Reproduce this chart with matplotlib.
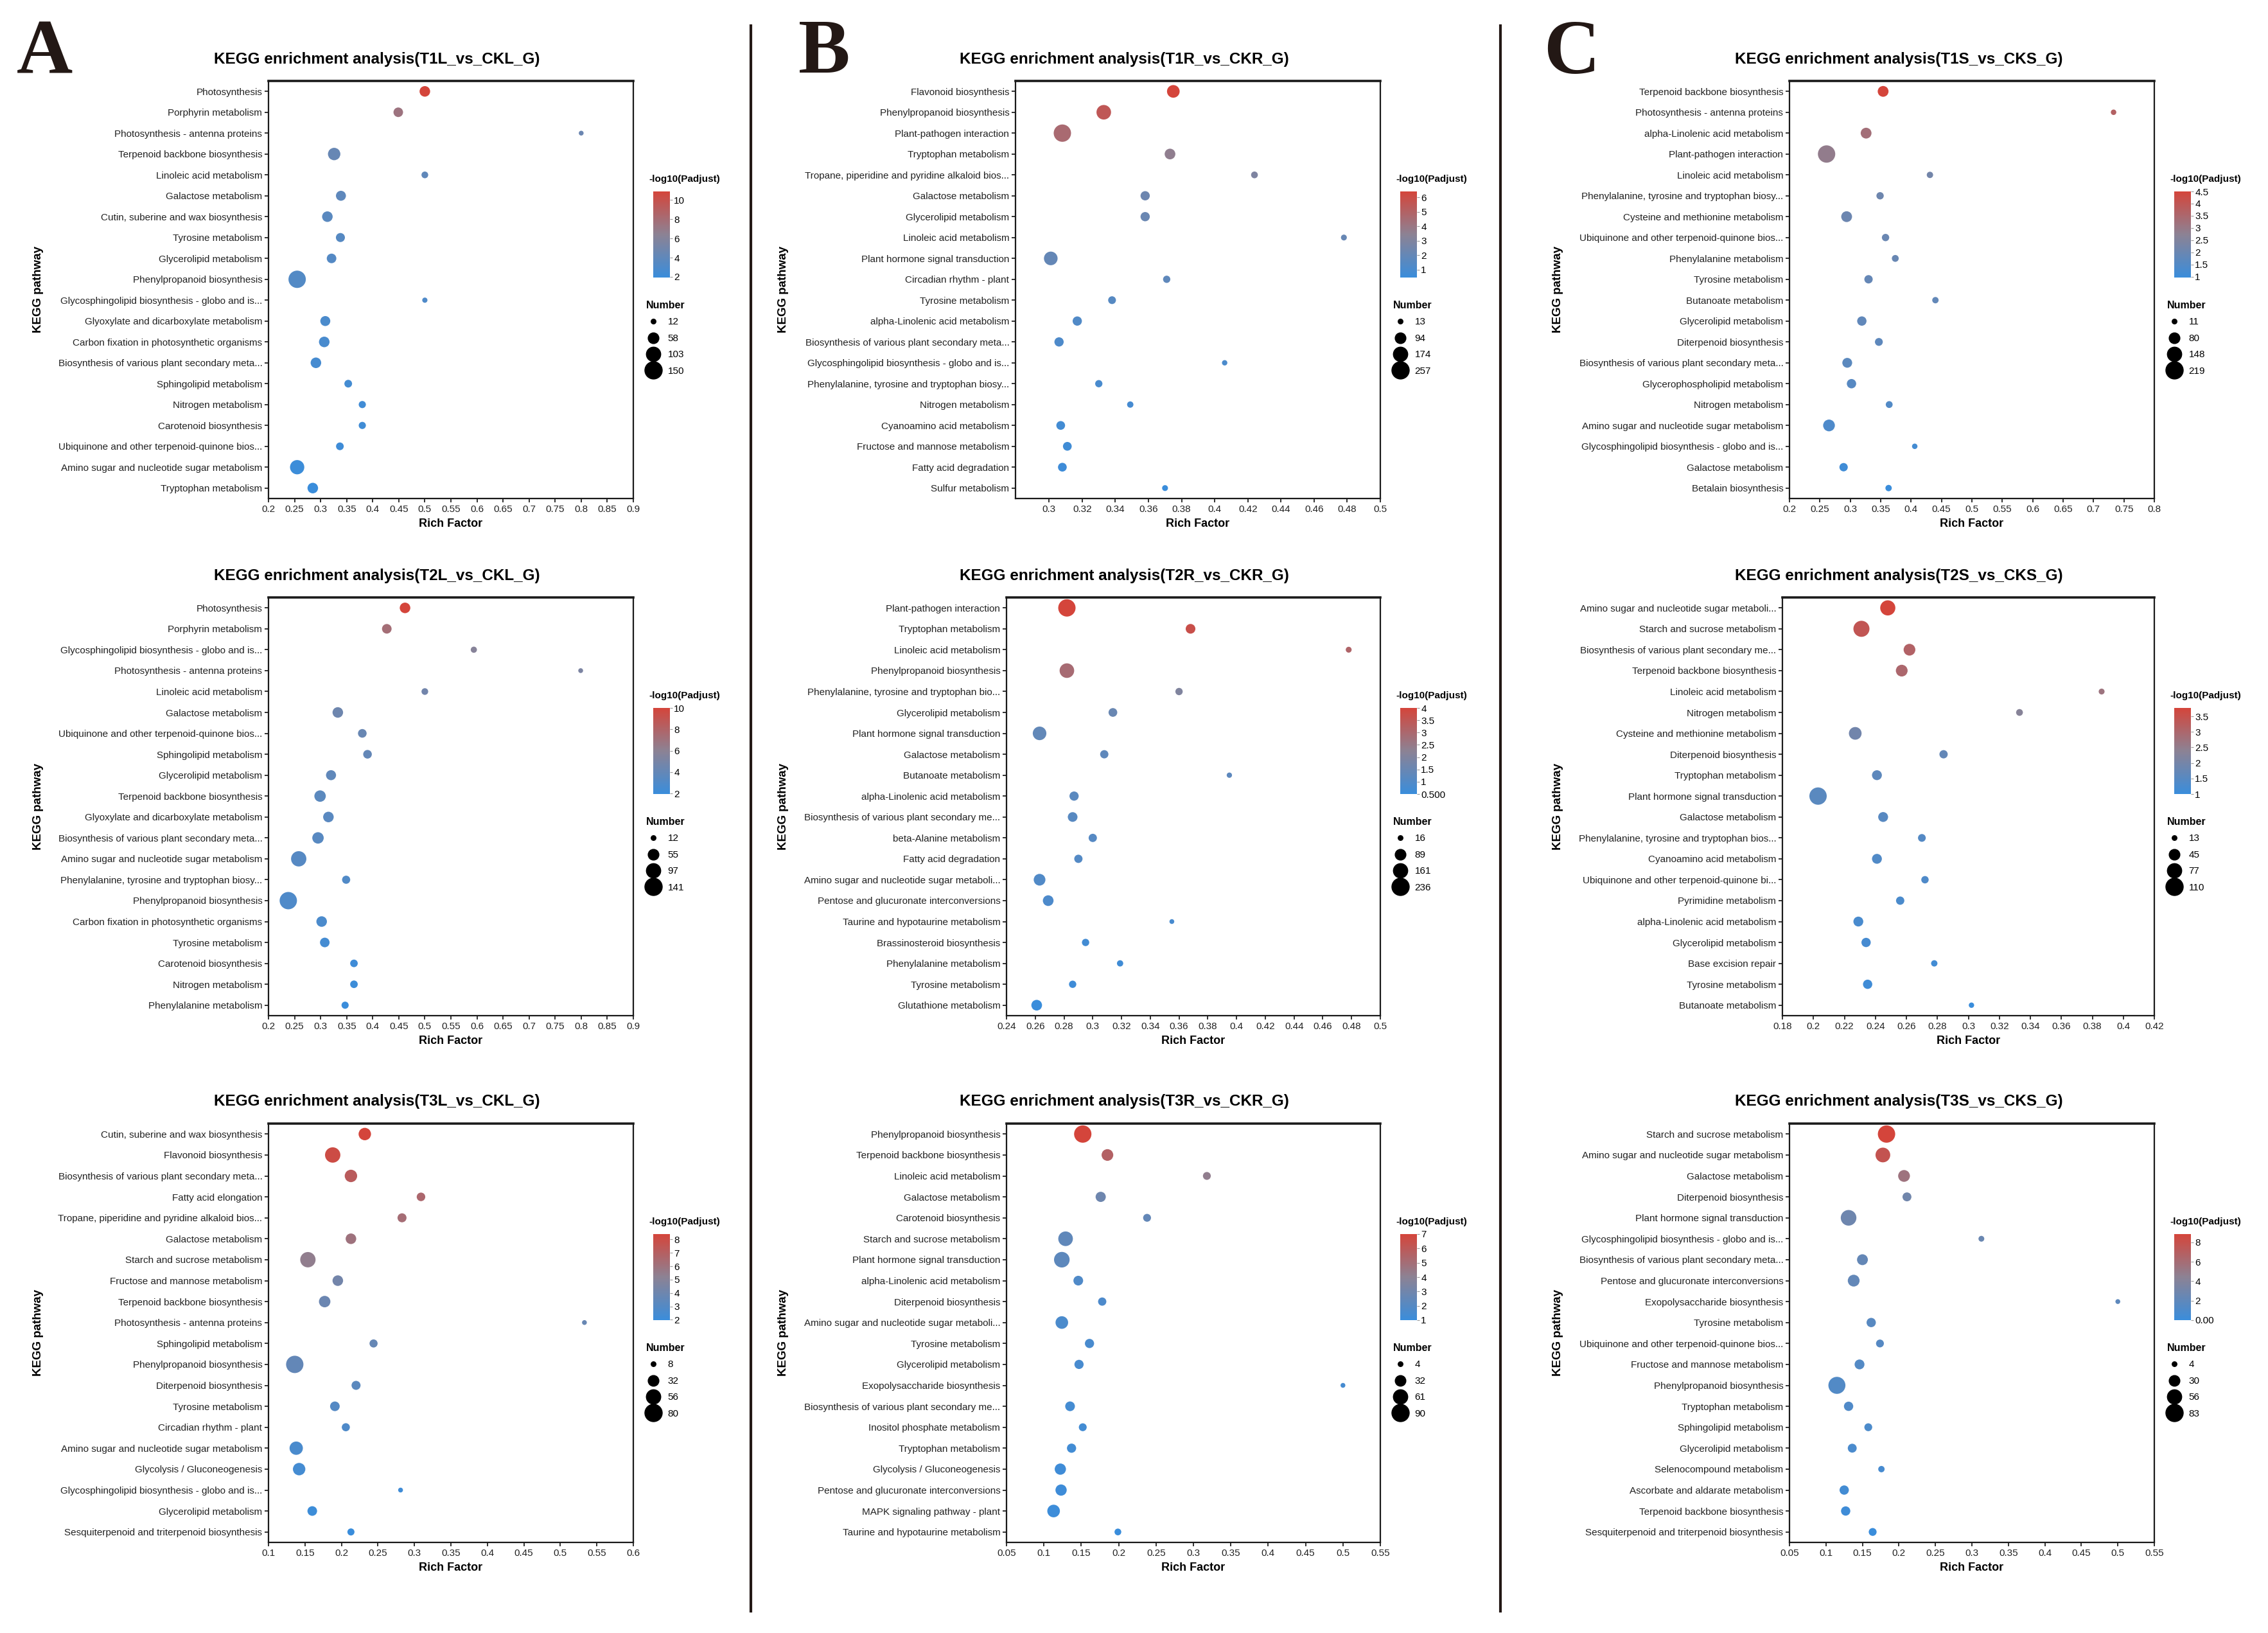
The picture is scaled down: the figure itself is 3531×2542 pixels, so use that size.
import numpy as np
import matplotlib
matplotlib.use("Agg")
import matplotlib.pyplot as plt
from matplotlib.colors import LinearSegmentedColormap
from matplotlib.lines import Line2D

# ---------------- data ----------------
# A: leaves
t1l_terms = ["Photosynthesis", "Porphyrin metabolism", "Photosynthesis - antenna proteins",
             "Terpenoid backbone biosynthesis", "Linoleic acid metabolism", "Galactose metabolism",
             "Cutin, suberine and wax biosynthesis", "Tyrosine metabolism", "Glycerolipid metabolism",
             "Phenylpropanoid biosynthesis", "Glycosphingolipid biosynthesis - globo and is...",
             "Glyoxylate and dicarboxylate metabolism", "Carbon fixation in photosynthetic organisms",
             "Biosynthesis of various plant secondary meta...", "Sphingolipid metabolism",
             "Nitrogen metabolism", "Carotenoid biosynthesis",
             "Ubiquinone and other terpenoid-quinone bios...",
             "Amino sugar and nucleotide sugar metabolism", "Tryptophan metabolism"]
t1l_rich = [0.50, 0.449, 0.80, 0.326, 0.50, 0.339, 0.313, 0.338, 0.321, 0.255,
            0.50, 0.309, 0.307, 0.291, 0.353, 0.380, 0.380, 0.337, 0.255, 0.285]
t1l_num = [56, 46, 12, 77, 23, 50, 56, 41, 46, 150, 14, 50, 56, 56, 30, 26, 26, 30, 102, 56]
t1l_padj = [10.9, 7.5, 4.6, 4.4, 4.0, 3.9, 3.7, 3.5, 3.4, 3.3,
            3.1, 2.9, 2.8, 2.6, 2.5, 2.35, 2.3, 2.2, 2.05, 1.93]
t1l_sizes = [12, 58, 103, 150]

t2l_terms = ["Photosynthesis", "Porphyrin metabolism", "Glycosphingolipid biosynthesis - globo and is...",
             "Photosynthesis - antenna proteins", "Linoleic acid metabolism", "Galactose metabolism",
             "Ubiquinone and other terpenoid-quinone bios...", "Sphingolipid metabolism",
             "Glycerolipid metabolism", "Terpenoid backbone biosynthesis",
             "Glyoxylate and dicarboxylate metabolism", "Biosynthesis of various plant secondary meta...",
             "Amino sugar and nucleotide sugar metabolism",
             "Phenylalanine, tyrosine and tryptophan biosy...", "Phenylpropanoid biosynthesis",
             "Carbon fixation in photosynthetic organisms", "Tyrosine metabolism",
             "Carotenoid biosynthesis", "Nitrogen metabolism", "Phenylalanine metabolism"]
t2l_rich = [0.462, 0.427, 0.594, 0.799, 0.500, 0.333, 0.380, 0.390, 0.320, 0.299,
            0.315, 0.295, 0.258, 0.349, 0.238, 0.302, 0.308, 0.364, 0.364, 0.347]
t2l_num = [53, 44, 19, 12, 22, 53, 36, 36, 48, 62, 53, 62, 110, 32, 141, 53, 44, 28, 28, 25]
t2l_padj = [10.0, 7.3, 5.7, 5.2, 4.7, 4.5, 4.2, 4.0, 3.8, 3.6,
            3.5, 3.4, 3.3, 3.1, 3.0, 2.8, 2.5, 2.2, 2.1, 1.94]
t2l_sizes = [12, 55, 97, 141]

t3l_terms = ["Cutin, suberine and wax biosynthesis", "Flavonoid biosynthesis",
             "Biosynthesis of various plant secondary meta...", "Fatty acid elongation",
             "Tropane, piperidine and pyridine alkaloid bios...", "Galactose metabolism",
             "Starch and sucrose metabolism", "Fructose and mannose metabolism",
             "Terpenoid backbone biosynthesis", "Photosynthesis - antenna proteins",
             "Sphingolipid metabolism", "Phenylpropanoid biosynthesis", "Diterpenoid biosynthesis",
             "Tyrosine metabolism", "Circadian rhythm - plant",
             "Amino sugar and nucleotide sugar metabolism", "Glycolysis / Gluconeogenesis",
             "Glycosphingolipid biosynthesis - globo and is...", "Glycerolipid metabolism",
             "Sesquiterpenoid and triterpenoid biosynthesis"]
t3l_rich = [0.232, 0.188, 0.213, 0.309, 0.283, 0.213, 0.154, 0.195, 0.177, 0.533,
            0.244, 0.136, 0.220, 0.191, 0.206, 0.138, 0.142, 0.281, 0.160, 0.213]
t3l_num = [42, 63, 42, 21, 23, 31, 63, 31, 36, 8, 19, 80, 23, 26, 19, 48, 42, 8, 26, 15]
t3l_padj = [8.4, 8.0, 7.2, 6.6, 6.3, 6.0, 5.4, 4.2, 3.9, 3.8,
            3.7, 3.6, 3.3, 3.0, 2.8, 2.6, 2.4, 2.2, 2.1, 1.97]
t3l_sizes = [8, 32, 56, 80]

# B: roots
t1r_terms = ["Flavonoid biosynthesis", "Phenylpropanoid biosynthesis", "Plant-pathogen interaction",
             "Tryptophan metabolism", "Tropane, piperidine and pyridine alkaloid bios...",
             "Galactose metabolism", "Glycerolipid metabolism", "Linoleic acid metabolism",
             "Plant hormone signal transduction", "Circadian rhythm - plant", "Tyrosine metabolism",
             "alpha-Linolenic acid metabolism", "Biosynthesis of various plant secondary meta...",
             "Glycosphingolipid biosynthesis - globo and is...",
             "Phenylalanine, tyrosine and tryptophan biosy...", "Nitrogen metabolism",
             "Cyanoamino acid metabolism", "Fructose and mannose metabolism",
             "Fatty acid degradation", "Sulfur metabolism"]
t1r_rich = [0.375, 0.333, 0.308, 0.373, 0.424, 0.358, 0.358, 0.478, 0.301, 0.371,
            0.338, 0.317, 0.306, 0.406, 0.330, 0.349, 0.307, 0.311, 0.308, 0.370]
t1r_num = [133, 179, 257, 93, 33, 68, 68, 23, 156, 39, 46, 68, 68, 18, 39, 28, 60, 60, 60, 23]
t1r_padj = [6.4, 5.5, 4.6, 3.6, 2.9, 2.3, 2.2, 2.1, 2.0, 1.8,
            1.5, 1.3, 1.2, 1.1, 1.0, 0.9, 0.8, 0.7, 0.6, 0.46]
t1r_sizes = [13, 94, 174, 257]

t2r_terms = ["Plant-pathogen interaction", "Tryptophan metabolism", "Linoleic acid metabolism",
             "Phenylpropanoid biosynthesis", "Phenylalanine, tyrosine and tryptophan bio...",
             "Glycerolipid metabolism", "Plant hormone signal transduction", "Galactose metabolism",
             "Butanoate metabolism", "alpha-Linolenic acid metabolism",
             "Biosynthesis of various plant secondary me...", "beta-Alanine metabolism",
             "Fatty acid degradation", "Amino sugar and nucleotide sugar metaboli...",
             "Pentose and glucuronate interconversions", "Taurine and hypotaurine metabolism",
             "Brassinosteroid biosynthesis", "Phenylalanine metabolism", "Tyrosine metabolism",
             "Glutathione metabolism"]
t2r_rich = [0.282, 0.368, 0.478, 0.282, 0.360, 0.314, 0.263, 0.308, 0.395, 0.287,
            0.286, 0.300, 0.290, 0.263, 0.269, 0.355, 0.295, 0.319, 0.286, 0.261]
t2r_num = [236, 72, 25, 166, 40, 58, 144, 52, 20, 65, 72, 52, 52, 106, 88, 16, 40, 29, 40, 88]
t2r_padj = [4.0, 3.7, 3.1, 2.9, 2.0, 1.5, 1.35, 1.3, 1.25, 1.2,
            1.15, 1.1, 1.05, 1.0, 0.9, 0.8, 0.7, 0.65, 0.6, 0.5]
t2r_sizes = [16, 89, 161, 236]

t3r_terms = ["Phenylpropanoid biosynthesis", "Terpenoid backbone biosynthesis",
             "Linoleic acid metabolism", "Galactose metabolism", "Carotenoid biosynthesis",
             "Starch and sucrose metabolism", "Plant hormone signal transduction",
             "alpha-Linolenic acid metabolism", "Diterpenoid biosynthesis",
             "Amino sugar and nucleotide sugar metaboli...", "Tyrosine metabolism",
             "Glycerolipid metabolism", "Exopolysaccharide biosynthesis",
             "Biosynthesis of various plant secondary me...", "Inositol phosphate metabolism",
             "Tryptophan metabolism", "Glycolysis / Gluconeogenesis",
             "Pentose and glucuronate interconversions", "MAPK signaling pathway - plant",
             "Taurine and hypotaurine metabolism"]
t3r_rich = [0.152, 0.185, 0.318, 0.176, 0.238, 0.129, 0.124, 0.146, 0.178, 0.124,
            0.161, 0.147, 0.500, 0.135, 0.152, 0.137, 0.122, 0.123, 0.113, 0.199]
t3r_num = [90, 39, 16, 29, 16, 63, 72, 26, 18, 46, 23, 23, 4, 26, 16, 23, 36, 36, 46, 11]
t3r_padj = [7.0, 5.6, 4.2, 2.9, 2.5, 2.4, 2.3, 1.8, 1.7, 1.65,
            1.55, 1.5, 1.45, 1.4, 1.35, 1.3, 1.2, 1.15, 1.1, 1.0]
t3r_sizes = [4, 32, 61, 90]

# C: stems
t1s_terms = ["Terpenoid backbone biosynthesis", "Photosynthesis - antenna proteins",
             "alpha-Linolenic acid metabolism", "Plant-pathogen interaction",
             "Linoleic acid metabolism", "Phenylalanine, tyrosine and tryptophan biosy...",
             "Cysteine and methionine metabolism", "Ubiquinone and other terpenoid-quinone bios...",
             "Phenylalanine metabolism", "Tyrosine metabolism", "Butanoate metabolism",
             "Glycerolipid metabolism", "Diterpenoid biosynthesis",
             "Biosynthesis of various plant secondary meta...", "Glycerophospholipid metabolism",
             "Nitrogen metabolism", "Amino sugar and nucleotide sugar metabolism",
             "Glycosphingolipid biosynthesis - globo and is...", "Galactose metabolism",
             "Betalain biosynthesis"]
t1s_rich = [0.354, 0.733, 0.326, 0.261, 0.431, 0.349, 0.294, 0.358, 0.374, 0.330,
            0.440, 0.319, 0.347, 0.295, 0.302, 0.364, 0.265, 0.406, 0.289, 0.363]
t1s_num = [81, 16, 81, 219, 24, 34, 81, 34, 29, 46, 24, 59, 40, 66, 59, 29, 97, 16, 46, 24]
t1s_padj = [4.5, 3.7, 3.3, 2.9, 2.2, 2.1, 2.05, 2.0, 1.95, 1.9,
            1.85, 1.8, 1.75, 1.7, 1.6, 1.5, 1.4, 1.2, 1.1, 0.97]
t1s_sizes = [11, 80, 148, 219]

t2s_terms = ["Amino sugar and nucleotide sugar metaboli...", "Starch and sucrose metabolism",
             "Biosynthesis of various plant secondary me...", "Terpenoid backbone biosynthesis",
             "Linoleic acid metabolism", "Nitrogen metabolism", "Cysteine and methionine metabolism",
             "Diterpenoid biosynthesis", "Tryptophan metabolism", "Plant hormone signal transduction",
             "Galactose metabolism", "Phenylalanine, tyrosine and tryptophan bios...",
             "Cyanoamino acid metabolism", "Ubiquinone and other terpenoid-quinone bi...",
             "Pyrimidine metabolism", "alpha-Linolenic acid metabolism", "Glycerolipid metabolism",
             "Base excision repair", "Tyrosine metabolism", "Butanoate metabolism"]
t2s_rich = [0.248, 0.231, 0.262, 0.257, 0.386, 0.333, 0.227, 0.284, 0.241, 0.203,
            0.245, 0.270, 0.241, 0.272, 0.256, 0.229, 0.234, 0.278, 0.235, 0.302]
t2s_num = [85, 95, 53, 53, 17, 21, 61, 29, 39, 110, 39, 26, 39, 24, 29, 39, 35, 19, 35, 15]
t2s_padj = [3.77, 3.4, 3.1, 3.0, 2.7, 2.3, 1.95, 1.7, 1.6, 1.55,
            1.5, 1.45, 1.4, 1.35, 1.3, 1.25, 1.2, 1.15, 1.1, 1.0]
t2s_sizes = [13, 45, 77, 110]

t3s_terms = ["Starch and sucrose metabolism", "Amino sugar and nucleotide sugar metabolism",
             "Galactose metabolism", "Diterpenoid biosynthesis", "Plant hormone signal transduction",
             "Glycosphingolipid biosynthesis - globo and is...",
             "Biosynthesis of various plant secondary meta...",
             "Pentose and glucuronate interconversions", "Exopolysaccharide biosynthesis",
             "Tyrosine metabolism", "Ubiquinone and other terpenoid-quinone bios...",
             "Fructose and mannose metabolism", "Phenylpropanoid biosynthesis",
             "Tryptophan metabolism", "Sphingolipid metabolism", "Glycerolipid metabolism",
             "Selenocompound metabolism", "Ascorbate and aldarate metabolism",
             "Terpenoid backbone biosynthesis", "Sesquiterpenoid and triterpenoid biosynthesis"]
t3s_rich = [0.183, 0.178, 0.207, 0.211, 0.131, 0.313, 0.150, 0.138, 0.500, 0.162,
            0.174, 0.146, 0.115, 0.131, 0.158, 0.136, 0.176, 0.125, 0.127, 0.164]
t3s_num = [83, 59, 37, 20, 67, 7, 31, 37, 4, 22, 15, 25, 80, 22, 15, 20, 9, 22, 22, 15]
t3s_padj = [8.84, 7.8, 5.5, 3.0, 2.8, 2.6, 2.3, 2.2, 1.9, 1.6,
            1.5, 1.4, 1.3, 1.2, 1.0, 0.9, 0.7, 0.5, 0.3, 0.0]
t3s_sizes = [4, 30, 56, 83]

# ---------------- layout (pixels of the 3531x2542 canvas) ----------------
W, H = 3531, 2542
plt.rcParams['font.family'] = ['Liberation Sans', 'DejaVu Sans']

rows = [(126, 776), (930, 1581), (1749, 2401)]
col_right = [986, 2149, 3354]
col_title_x = [587, 1750, 2956]
col_ylab_x = [59, 1220, 2425]

panels = [
    # (name, terms, rich, num, padj, sizes, row, col, left, xlim, xticks, cticks, clabels)
    ("T1L", t1l_terms, t1l_rich, t1l_num, t1l_padj, t1l_sizes, 0, 0, 418,
     (0.2, 0.9), np.arange(0.2, 0.91, 0.05), [2, 4, 6, 8, 10], None),
    ("T2L", t2l_terms, t2l_rich, t2l_num, t2l_padj, t2l_sizes, 1, 0, 418,
     (0.2, 0.9), np.arange(0.2, 0.91, 0.05), [2, 4, 6, 8, 10], None),
    ("T3L", t3l_terms, t3l_rich, t3l_num, t3l_padj, t3l_sizes, 2, 0, 418,
     (0.1, 0.6), np.arange(0.1, 0.61, 0.05), [2, 3, 4, 5, 6, 7, 8], None),
    ("T1R", t1r_terms, t1r_rich, t1r_num, t1r_padj, t1r_sizes, 0, 1, 1581,
     (0.2797, 0.5), np.arange(0.3, 0.501, 0.02), [1, 2, 3, 4, 5, 6], None),
    ("T2R", t2r_terms, t2r_rich, t2r_num, t2r_padj, t2r_sizes, 1, 1, 1567,
     (0.24, 0.5), np.arange(0.24, 0.501, 0.02), [0.5, 1, 1.5, 2, 2.5, 3, 3.5, 4],
     ["0.500", "1", "1.5", "2", "2.5", "3", "3.5", "4"]),
    ("T3R", t3r_terms, t3r_rich, t3r_num, t3r_padj, t3r_sizes, 2, 1, 1567,
     (0.05, 0.55), np.arange(0.05, 0.551, 0.05), [1, 2, 3, 4, 5, 6, 7], None),
    ("T1S", t1s_terms, t1s_rich, t1s_num, t1s_padj, t1s_sizes, 0, 2, 2786,
     (0.2, 0.8), np.arange(0.2, 0.81, 0.05), [1, 1.5, 2, 2.5, 3, 3.5, 4, 4.5], None),
    ("T2S", t2s_terms, t2s_rich, t2s_num, t2s_padj, t2s_sizes, 1, 2, 2775,
     (0.18, 0.42), np.arange(0.18, 0.421, 0.02), [1, 1.5, 2, 2.5, 3, 3.5], None),
    ("T3S", t3s_terms, t3s_rich, t3s_num, t3s_padj, t3s_sizes, 2, 2, 2786,
     (0.05, 0.55), np.arange(0.05, 0.551, 0.05), [0, 2, 4, 6, 8],
     ["0.00", "2", "4", "6", "8"]),
]
tissue = {"L": "CKL", "R": "CKR", "S": "CKS"}

cmap = LinearSegmentedColormap.from_list("padj", ["#3a8ddb", "#8c8294", "#d4453b"])


def fx(px):
    return px / W


def fy(py):
    return 1 - py / H


def bubble(v, lo, hi):
    # area grows linearly with gene number, diameter 7.5..27 px
    d = np.sqrt(7.5 ** 2 + (27 ** 2 - 7.5 ** 2) * (np.asarray(v, float) - lo) / (hi - lo))
    return (d * 0.72) ** 2


fig = plt.figure(figsize=(W / 100, H / 100), dpi=100)

for (name, terms, rich, num, padj, sizes, r, c, left, xlim, xticks, cticks, clabels) in panels:
    top, bottom = rows[r]
    right = col_right[c]
    hpx = bottom - top
    ax = fig.add_axes([fx(left), fy(bottom), fx(right - left), hpx / H])
    y = np.arange(len(terms))
    sc = ax.scatter(rich, y, s=bubble(num, sizes[0], sizes[-1]), c=padj, cmap=cmap,
                    vmin=min(padj), vmax=max(padj), linewidths=0, zorder=3)
    ax.set_ylim(len(terms) - 0.5, -0.5)
    ax.set_yticks(y)
    ax.set_yticklabels(terms, fontsize=11, color="#222222")
    ax.set_xlim(*xlim)
    ax.set_xticks(xticks)
    ax.set_xticklabels(["%g" % round(t, 2) for t in xticks], fontsize=11, color="#222222")
    ax.tick_params(length=4, width=1.3, pad=3, color="#222222")
    for s in ax.spines.values():
        s.set_linewidth(1.6)
        s.set_color("#1a1a1a")
    ax.spines["top"].set_linewidth(2.6)
    ax.set_xlabel("Rich Factor", fontsize=13, fontweight="bold")
    ax.xaxis.set_label_coords(0.5, -31 / hpx)

    fig.text(fx(col_title_x[c]), fy(top - 34), "KEGG enrichment analysis(%s_vs_%s_G)" % (name, tissue[name[-1]]),
             ha="center", va="center", fontsize=17.5, fontweight="bold")
    fig.text(fx(col_ylab_x[c]), fy((top + bottom) / 2), "KEGG pathway", rotation=90,
             ha="center", va="center", fontsize=13.5, fontweight="bold")

    # colour bar
    cax = fig.add_axes([fx(right + 31), fy(top + 306), 26 / W, 134 / H])
    cb = fig.colorbar(sc, cax=cax)
    cb.outline.set_visible(False)
    cb.set_ticks(cticks)
    if clabels is not None:
        cb.set_ticklabels(clabels)
    else:
        cb.set_ticklabels(["%g" % t for t in cticks])
    cax.tick_params(labelsize=11, length=3, width=0.8, color="#999999", pad=1.5)
    fig.text(fx(right + 24), fy(top + 153), "-log10(Padjust)", ha="left", va="center",
             fontsize=11, fontweight="bold")

    # size legend
    handles = [Line2D([], [], ls="", marker="o", color="black",
                      markersize=np.sqrt(bubble(v, sizes[0], sizes[-1]))) for v in sizes]
    fig.legend(handles, [str(v) for v in sizes], title="Number", loc="upper left",
               bbox_to_anchor=(fx(right + 20), fy(top + 342)), frameon=False, fontsize=11,
               title_fontproperties={"weight": "bold", "size": 11.5}, alignment="left",
               borderpad=0, borderaxespad=0, handlelength=1.4, handletextpad=0.8,
               labelspacing=0.75)

# panel letters and separators
for letter, x, yb in [("A", 26, 113), ("B", 1243, 113), ("C", 2403, 114)]:
    fig.text(fx(x), fy(yb), letter, ha="left", va="baseline", fontsize=87,
             fontweight="bold", color="#231815", family=["Liberation Serif", "DejaVu Serif"])
for xs in [1169, 2336]:
    fig.add_artist(Line2D([fx(xs), fx(xs)], [fy(40), fy(2508)], color="#231815", lw=3))

fig.savefig("out.png", dpi=100)
